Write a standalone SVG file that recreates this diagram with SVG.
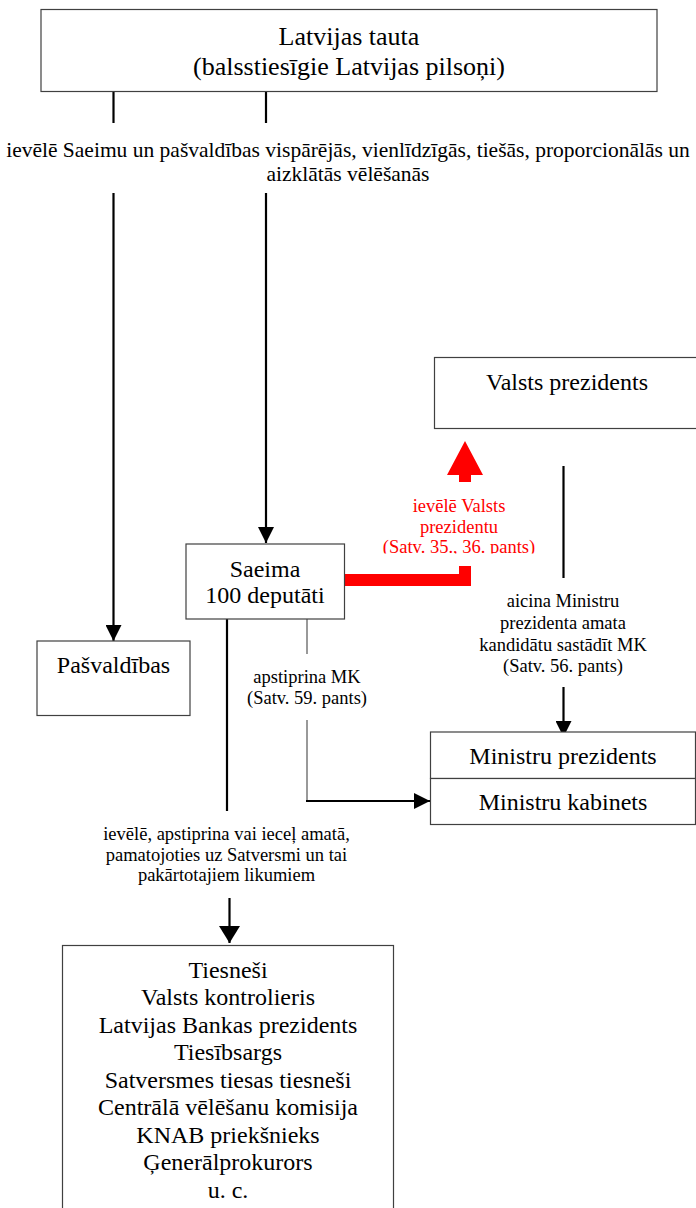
<svg xmlns="http://www.w3.org/2000/svg" width="696" height="1208" viewBox="0 0 696 1208">
  <defs>
    <style>
      text { font-family: "Liberation Serif", "Times New Roman", "DejaVu Serif", serif; fill: #000; text-anchor: middle; }
      .box { fill: #fff; stroke: #404040; stroke-width: 1.2; }
      .big { font-size: 26px; }
      .node { font-size: 24px; }
      .lbl { font-size: 18.5px; }
      .top-lbl { font-size: 21.5px; }
      .red { fill: #ff0000; }
      .wire { fill: none; stroke: #000; stroke-width: 2.2; }
      .thin { fill: none; stroke: #555; stroke-width: 1.2; }
    </style>
    <marker id="arrow" markerUnits="userSpaceOnUse" markerWidth="16" markerHeight="16" refX="16" refY="8" orient="auto">
      <path d="M0,0 L16,8 L0,16 z" fill="#000"/>
    </marker>
    <marker id="arrow-lg" markerUnits="userSpaceOnUse" markerWidth="17" markerHeight="21" refX="17" refY="10.5" orient="auto">
      <path d="M0,0 L17,10.5 L0,21 z" fill="#000"/>
    </marker>
    <clipPath id="red-clip">
      <rect x="300" y="480" width="300" height="73.5"/>
    </clipPath>
  </defs>

  <!-- connectors -->
  <g id="connectors">
    <!-- people to the two elected bodies -->
    <line class="wire" x1="113.5" y1="92" x2="113.5" y2="123"/>
    <line class="wire" x1="266" y1="92" x2="266" y2="123"/>
    <line class="wire" x1="113.5" y1="193" x2="113.5" y2="641" marker-end="url(#arrow)"/>
    <line class="wire" x1="266" y1="193" x2="266" y2="543" marker-end="url(#arrow)"/>
    <!-- Saeima approves the cabinet -->
    <line class="thin" x1="307" y1="619" x2="307" y2="654"/>
    <polyline class="thin" points="307,720 307,801"/>
    <line class="wire" x1="306" y1="801" x2="430" y2="801" marker-end="url(#arrow)"/>
    <!-- president invites the prime minister -->
    <line class="wire" x1="563.5" y1="466" x2="563.5" y2="578"/>
    <line class="wire" x1="563.5" y1="687" x2="563.5" y2="737" marker-end="url(#arrow)"/>
    <!-- Saeima appoints officials -->
    <line class="wire" x1="227" y1="619" x2="227" y2="811"/>
    <line class="wire" x1="229.5" y1="898" x2="229.5" y2="943" marker-end="url(#arrow-lg)"/>
    <!-- Saeima elects the president (red block arrow) -->
    <polygon points="345,574 459,574 459,566 471,566 471,586 345,586" fill="#ff0000"/>
    <polygon points="465,441 483,475 471,475 471,482 459,482 459,475 447,475" fill="#ff0000"/>
  </g>

  <!-- edge labels -->
  <g id="labels">
    <text class="top-lbl" x="348" y="157">ievēlē Saeimu un pašvaldības vispārējās, vienlīdzīgās, tiešās, proporcionālās un</text>
    <text class="top-lbl" x="348" y="181">aizklātās vēlēšanās</text>

    <g clip-path="url(#red-clip)">
      <text class="lbl red" x="459" y="512">ievēlē Valsts</text>
      <text class="lbl red" x="459" y="533">prezidentu</text>
      <text class="lbl red" x="459" y="553">(Satv. 35., 36. pants)</text>
    </g>

    <text class="lbl" x="563" y="607">aicina Ministru</text>
    <text class="lbl" x="563" y="629">prezidenta amata</text>
    <text class="lbl" x="563" y="650.5">kandidātu sastādīt MK</text>
    <text class="lbl" x="563" y="672">(Satv. 56. pants)</text>

    <text class="lbl" x="307" y="683">apstiprina MK</text>
    <text class="lbl" x="307" y="704">(Satv. 59. pants)</text>

    <text class="lbl" x="226.5" y="840">ievēlē, apstiprina vai ieceļ amatā,</text>
    <text class="lbl" x="226.5" y="860.5">pamatojoties uz Satversmi un tai</text>
    <text class="lbl" x="226.5" y="881">pakārtotajiem likumiem</text>
  </g>

  <g id="latvijas-tauta">
    <rect class="box" x="41" y="9.5" width="616" height="82"/>
    <text class="big" x="349" y="45">Latvijas tauta</text>
    <text class="big" x="349" y="75">(balsstiesīgie Latvijas pilsoņi)</text>
  </g>

  <g id="valsts-prezidents">
    <rect class="box" x="434.5" y="357.5" width="270" height="71"/>
    <text class="node" x="567" y="390">Valsts prezidents</text>
  </g>

  <g id="saeima">
    <rect class="box" x="186" y="544" width="158.5" height="75"/>
    <text class="node" x="265" y="577">Saeima</text>
    <text class="node" x="265" y="603">100 deputāti</text>
  </g>

  <g id="pasvaldibas">
    <rect class="box" x="37" y="641" width="153" height="74.5"/>
    <text class="node" x="113.5" y="673">Pašvaldības</text>
  </g>

  <g id="ministru-prezidents">
    <rect class="box" x="430.5" y="732" width="265" height="46.5"/>
    <text class="node" x="563" y="764">Ministru prezidents</text>
  </g>

  <g id="ministru-kabinets">
    <rect class="box" x="430.5" y="778.5" width="265" height="46"/>
    <text class="node" x="563" y="810">Ministru kabinets</text>
  </g>

  <g id="amatpersonas">
    <rect class="box" x="62.5" y="945.5" width="331" height="300" stroke="#222"/>
    <text class="node" x="228" y="977.5">Tiesneši</text>
    <text class="node" x="228" y="1005">Valsts kontrolieris</text>
    <text class="node" x="228" y="1032.5">Latvijas Bankas prezidents</text>
    <text class="node" x="228" y="1060">Tiesībsargs</text>
    <text class="node" x="228" y="1087.5">Satversmes tiesas tiesneši</text>
    <text class="node" x="228" y="1115">Centrālā vēlēšanu komisija</text>
    <text class="node" x="228" y="1142.5">KNAB priekšnieks</text>
    <text class="node" x="228" y="1170">Ģenerālprokurors</text>
    <text class="node" x="228" y="1197.5">u. c.</text>
  </g>
</svg>
